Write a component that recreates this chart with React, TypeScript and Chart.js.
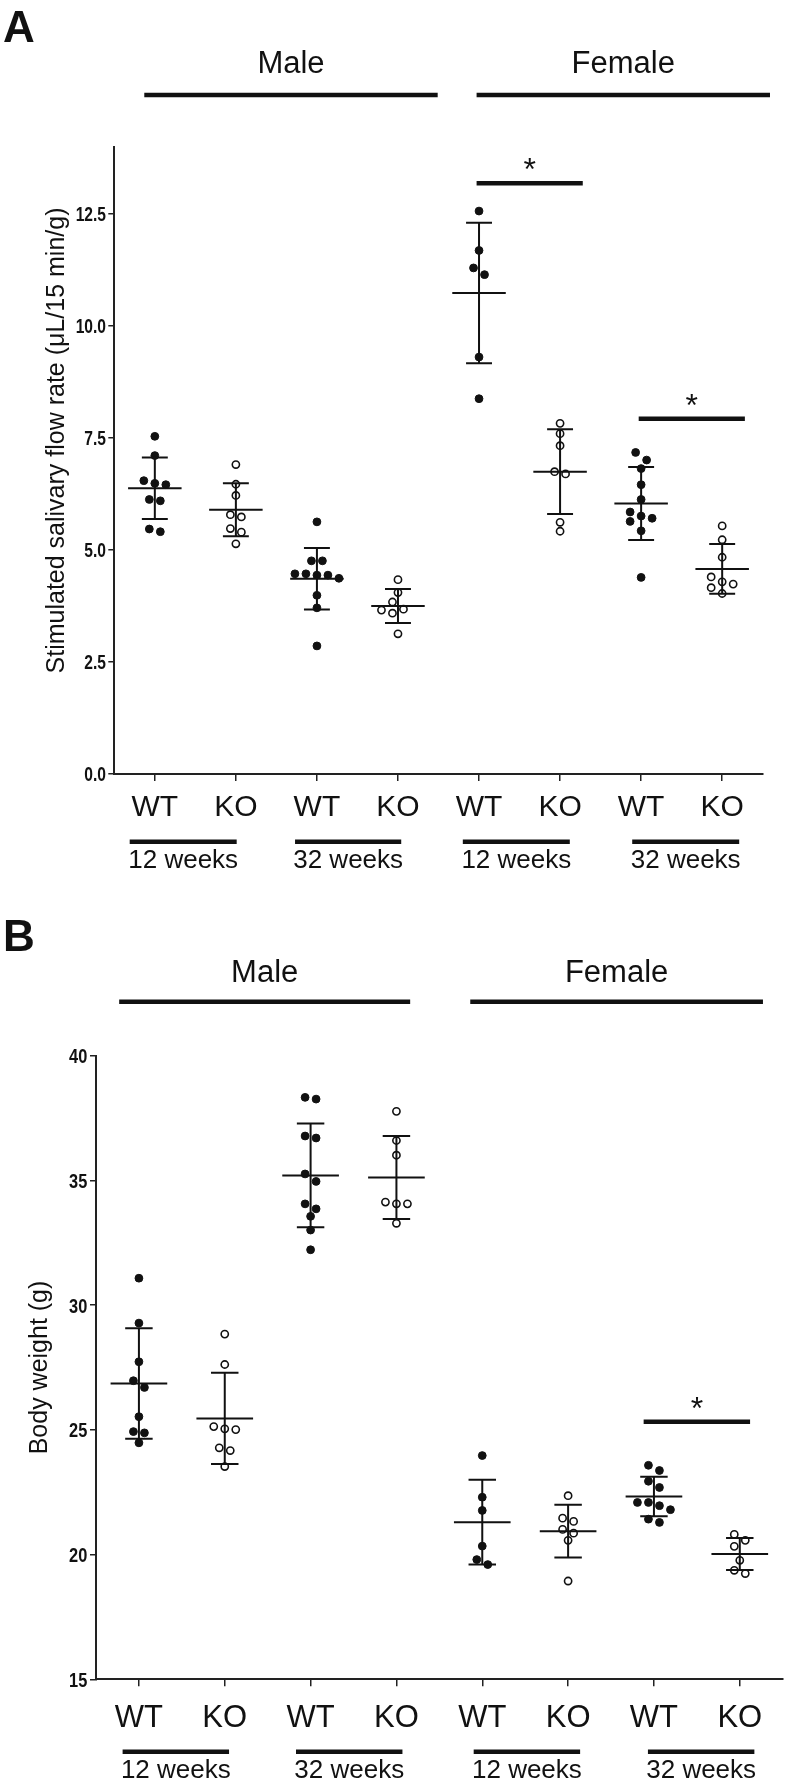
import React, { useEffect, useRef } from 'react';
import { Chart, registerables } from 'chart.js';

Chart.register(...registerables);

// ---------- shared labels ----------
const genotypeLabels = ['WT', 'KO', 'WT', 'KO', 'WT', 'KO', 'WT', 'KO'];
const ageLabels = ['12 weeks', '32 weeks', '12 weeks', '32 weeks'];
const sexLabels = ['Male', 'Female'];

// ---------- Panel A: stimulated salivary flow rate (μL/15 min/g) ----------
const flowMaleWT12 = [7.54, 7.11, 6.55, 6.46, 6.49, 6.13, 6.10, 5.41, 5.47];
const flowMaleKO12 = [6.91, 6.47, 6.22, 5.79, 5.74, 5.48, 5.40, 5.14];
const flowMaleWT32 = [5.63, 4.76, 4.76, 4.47, 4.44, 4.37, 4.44, 4.47, 3.99, 3.71, 2.86];
const flowMaleKO32 = [4.34, 4.05, 3.84, 3.66, 3.59, 3.68, 3.13];
const flowFemaleWT12 = [12.57, 11.69, 11.30, 11.15, 9.31, 8.38];
const flowFemaleKO12 = [7.83, 7.60, 7.33, 6.75, 6.70, 5.62, 5.42];
const flowFemaleWT32 = [7.18, 7.01, 6.82, 6.46, 6.13, 5.85, 5.76, 5.71, 5.64, 5.43, 4.39];
const flowFemaleKO32 = [5.54, 5.23, 4.84, 4.40, 4.24, 4.29, 4.16, 4.03];
const flowMeans = [6.38, 5.90, 4.36, 3.75, 10.74, 6.75, 6.04, 4.58];
const flowSDs = [0.685, 0.59, 0.685, 0.38, 1.57, 0.945, 0.815, 0.555];
const flowTicks = [0, 2.5, 5, 7.5, 10, 12.5];
const flowSigFrom = [3.97, 5.97];
const flowSigTo = [5.28, 7.28];
const flowSigLevel = [13.19, 7.93];
const flowSexSpans = [[-0.13, 3.49], [3.97, 7.59]];
const flowAgeSpans = [[-0.31, 1.01], [1.73, 3.04], [3.8, 5.12], [5.89, 7.21]];

// ---------- Panel B: body weight (g) ----------
const bwMaleWT12 = [31.08, 29.28, 27.73, 26.97, 26.70, 25.53, 24.93, 24.88, 24.48];
const bwMaleKO12 = [28.84, 27.62, 25.13, 25.01, 25.04, 24.28, 24.17, 23.53];
const bwMaleWT32 = [38.33, 38.26, 36.70, 36.78, 35.26, 34.96, 34.06, 33.86, 33.56, 33.01, 32.22];
const bwMaleKO32 = [37.77, 36.60, 36.01, 34.06, 34.06, 34.13, 33.28];
const bwFemaleWT12 = [23.97, 22.30, 21.77, 20.34, 19.80, 19.60];
const bwFemaleKO12 = [22.36, 21.46, 21.33, 21.01, 20.86, 20.57, 18.94];
const bwFemaleWT32 = [23.58, 23.37, 22.94, 22.69, 22.09, 22.09, 21.96, 21.80, 21.29, 21.42];
const bwFemaleKO32 = [20.81, 20.57, 20.33, 19.77, 19.24, 19.37];
const bwMeans = [26.86, 25.46, 35.2, 35.12, 21.3, 20.94, 22.33, 20.02];
const bwSDs = [2.215, 1.83, 2.08, 1.665, 1.7, 1.055, 0.79, 0.64];
const bwTicks = [15, 20, 25, 30, 35, 40];
const bwSigFrom = [5.88];
const bwSigTo = [7.12];
const bwSigLevel = [25.33];
const bwSexSpans = [[-0.23, 3.16], [3.86, 7.27]];
const bwAgeSpans = [[-0.19, 1.05], [1.83, 3.07], [3.9, 5.14], [5.93, 7.17]];

// ---------- styling ----------
const INK = '#111111';
const SANS = "'Liberation Sans', Arial, Helvetica, sans-serif";
const MEAN_HALF = 0.33;
const CAP_HALF = 0.16;
const DOT_DIAM = 8.6;
const DOT_GAP = 11;
const Y_TICK_LEN = 6;

type Geo = {
  h: number; left: number; top: number; right: number; bottom: number;
  titleX: number; titleDy: number; headerLineDy: number; ageLineDy: number;
  xLabelPad: number; genoSize: number; yLabelGap: number; yLabelSize: number;
};

type Panel = {
  letter: string;
  groups: number[][];
  means: number[];
  sds: number[];
  yMin: number; yMax: number; yTicks: number[]; decimals: number;
  yTitle: string;
  sigFrom: number[]; sigTo: number[]; sigLevel: number[];
  sexSpans: number[][]; ageSpans: number[][];
  geo: Geo;
};

const panels: Panel[] = [
  {
    letter: 'A',
    groups: [flowMaleWT12, flowMaleKO12, flowMaleWT32, flowMaleKO32, flowFemaleWT12, flowFemaleKO12, flowFemaleWT32, flowFemaleKO32],
    means: flowMeans, sds: flowSDs,
    yMin: 0, yMax: 14, yTicks: flowTicks, decimals: 1,
    yTitle: 'Stimulated salivary flow rate (μL/15 min/g)',
    sigFrom: flowSigFrom, sigTo: flowSigTo, sigLevel: flowSigLevel,
    sexSpans: flowSexSpans, ageSpans: flowAgeSpans,
    geo: { h: 890, left: 114.3, top: 147, right: 762.7, bottom: 774, titleX: 57, titleDy: -20, headerLineDy: 52, ageLineDy: 67.7, xLabelPad: 9, genoSize: 30, yLabelGap: 8.3, yLabelSize: 20 },
  },
  {
    letter: 'B',
    groups: [bwMaleWT12, bwMaleKO12, bwMaleWT32, bwMaleKO32, bwFemaleWT12, bwFemaleKO12, bwFemaleWT32, bwFemaleKO32],
    means: bwMeans, sds: bwSDs,
    yMin: 15, yMax: 40, yTicks: bwTicks, decimals: 0,
    yTitle: 'Body weight (g)',
    sigFrom: bwSigFrom, sigTo: bwSigTo, sigLevel: bwSigLevel,
    sexSpans: bwSexSpans, ageSpans: bwAgeSpans,
    geo: { h: 898, left: 96, top: 165.7, right: 782.7, bottom: 789.3, titleX: 55.5, titleDy: 0, headerLineDy: 54, ageLineDy: 72.4, xLabelPad: 13.5, genoSize: 31, yLabelGap: 8.7, yLabelSize: 21 },
  },
];

// Scatter-dot-plot arrangement: points of similar value share a row,
// spread symmetrically; rows are nudged sideways to reduce overlap.
function beeswarm(values: number[], pxX: number, pxY: number): number[] {
  const tol = (DOT_DIAM * 0.9) / pxY;
  const step = DOT_GAP / pxX;
  const order = values.map((_, i) => i).sort((a, b) => values[b] - values[a]);
  const rows: number[][] = [];
  for (const k of order) {
    const cur = rows[rows.length - 1];
    if (cur && values[cur[0]] - values[k] <= tol) cur.push(k);
    else rows.push([k]);
  }
  const off = new Array(values.length).fill(0);
  const placed: number[] = [];
  for (const row of rows) {
    const base = row.map((_, j) => (j - (row.length - 1) / 2) * step);
    let best = 0;
    let bestScore = -Infinity;
    for (const s of [0, 0.5, -0.5, 1, -1]) {
      const shift = s * step;
      let minD = Infinity;
      row.forEach((k, j) => {
        for (const q of placed) {
          const dx = (base[j] + shift - off[q]) * pxX;
          const dy = (values[k] - values[q]) * pxY;
          minD = Math.min(minD, Math.hypot(dx, dy));
        }
      });
      if (minD >= DOT_DIAM) { best = shift; break; }
      if (minD > bestScore) { bestScore = minD; best = shift; }
    }
    row.forEach((k, j) => { off[k] = base[j] + best; placed.push(k); });
  }
  return off;
}

function decorPlugin(p: Panel) {
  return {
    id: 'decor' + p.letter,
    afterDraw(chart: any) {
      const { ctx, chartArea: ca, scales } = chart;
      const xs = scales.x;
      const ys = scales.y;
      const g = p.geo;
      ctx.save();
      ctx.fillStyle = INK;
      ctx.strokeStyle = INK;
      ctx.lineCap = 'butt';

      // y tick labels (bold, condensed), placed at the library's tick positions
      ctx.font = `bold ${g.yLabelSize}px ${SANS}`;
      ctx.textAlign = 'right';
      ctx.textBaseline = 'alphabetic';
      const capH = g.yLabelSize * 0.716;
      ys.ticks.forEach((t: any) => {
        const y = ys.getPixelForValue(t.value);
        ctx.save();
        ctx.translate(ca.left - g.yLabelGap, y + capH / 2);
        ctx.scale(0.78, 1);
        ctx.fillText(Number(t.value).toFixed(p.decimals), 0, 0);
        ctx.restore();
      });

      // panel letter
      ctx.font = `bold 44px ${SANS}`;
      ctx.textAlign = 'left';
      ctx.fillText(p.letter, 3, ca.top - 105);

      // sex headers
      ctx.lineWidth = 4.5;
      ctx.font = `31px ${SANS}`;
      ctx.textAlign = 'center';
      p.sexSpans.forEach(([a, b], i) => {
        const x1 = xs.getPixelForValue(a);
        const x2 = xs.getPixelForValue(b);
        const y = ca.top - g.headerLineDy;
        ctx.beginPath();
        ctx.moveTo(x1, y);
        ctx.lineTo(x2, y);
        ctx.stroke();
        ctx.fillText(sexLabels[i], (x1 + x2) / 2, ca.top - 74);
      });

      // age groups under the axis
      ctx.font = `26px ${SANS}`;
      p.ageSpans.forEach(([a, b], i) => {
        const x1 = xs.getPixelForValue(a);
        const x2 = xs.getPixelForValue(b);
        const y = ca.bottom + g.ageLineDy;
        ctx.beginPath();
        ctx.moveTo(x1, y);
        ctx.lineTo(x2, y);
        ctx.stroke();
        ctx.fillText(ageLabels[i], (x1 + x2) / 2, y + 26.6);
      });

      // significance asterisks
      ctx.font = `32px ${SANS}`;
      p.sigFrom.forEach((a, i) => {
        const x = (xs.getPixelForValue(a) + xs.getPixelForValue(p.sigTo[i])) / 2;
        const y = ys.getPixelForValue(p.sigLevel[i]);
        ctx.fillText('*', x, y - 3);
      });

      // y-axis title
      ctx.font = `25px ${SANS}`;
      ctx.translate(ca.left - g.titleX, (ca.top + ca.bottom) / 2 + g.titleDy);
      ctx.rotate(-Math.PI / 2);
      ctx.textBaseline = 'middle';
      ctx.textAlign = 'center';
      ctx.fillText(p.yTitle, 0, 0);
      ctx.restore();
    },
  };
}

function buildConfig(p: Panel): any {
  const g = p.geo;
  const pxX = (g.right - g.left) / 8;
  const pxY = (g.bottom - g.top) / (p.yMax - p.yMin);

  const filled: any[] = [];
  const open: any[] = [];
  p.groups.forEach((vals, i) => {
    const off = beeswarm(vals, pxX, pxY);
    vals.forEach((v, j) => {
      (i % 2 === 0 ? filled : open).push({ x: i + off[j], y: v });
    });
  });

  const meanData: any[] = [];
  const barData: any[] = [];
  p.means.forEach((m, i) => {
    const sd = p.sds[i];
    meanData.push({ x: i - MEAN_HALF, y: m }, { x: i + MEAN_HALF, y: m }, { x: i, y: null });
    barData.push({ x: i, y: m - sd }, { x: i, y: m + sd }, { x: i, y: null });
    barData.push({ x: i - CAP_HALF, y: m + sd }, { x: i + CAP_HALF, y: m + sd }, { x: i, y: null });
    barData.push({ x: i - CAP_HALF, y: m - sd }, { x: i + CAP_HALF, y: m - sd }, { x: i, y: null });
  });
  const sigData: any[] = [];
  p.sigFrom.forEach((a, i) => {
    sigData.push({ x: a, y: p.sigLevel[i] }, { x: p.sigTo[i], y: p.sigLevel[i] }, { x: a, y: null });
  });

  const lineDs = (data: any[], width: number) => ({
    data,
    showLine: true,
    spanGaps: false,
    borderColor: INK,
    borderWidth: width,
    pointRadius: 0,
    fill: false,
    clip: false,
    borderCapStyle: 'butt',
  });

  return {
    type: 'scatter',
    data: {
      datasets: [
        lineDs(meanData, 2),
        lineDs(barData, 2),
        lineDs(sigData, 4.5),
        {
          data: open,
          pointStyle: 'circle',
          pointRadius: 3.6,
          pointBorderWidth: 1.6,
          pointBackgroundColor: '#ffffff',
          pointBorderColor: INK,
          clip: false,
        },
        {
          data: filled,
          pointStyle: 'circle',
          pointRadius: 3.9,
          pointBorderWidth: 1,
          pointBackgroundColor: INK,
          pointBorderColor: INK,
          clip: false,
        },
      ],
    },
    options: {
      responsive: false,
      maintainAspectRatio: false,
      animation: false,
      devicePixelRatio: 1,
      events: [],
      layout: { padding: { left: 0, top: g.top, right: 792 - g.right, bottom: 0 } },
      plugins: { legend: { display: false }, tooltip: { enabled: false }, title: { display: false } },
      scales: {
        x: {
          type: 'linear',
          min: -0.5,
          max: 7.5,
          afterFit: (s: any) => { s.height = g.h - g.bottom; },
          afterBuildTicks: (s: any) => { s.ticks = genotypeLabels.map((_, i) => ({ value: i })); },
          grid: { display: true, drawOnChartArea: false, drawTicks: true, tickLength: 7, color: '#222', lineWidth: 1.5 },
          border: { display: true, color: '#222', width: 2 },
          ticks: {
            autoSkip: false,
            maxRotation: 0,
            padding: g.xLabelPad,
            color: INK,
            font: { family: SANS, size: g.genoSize },
            callback: (v: any) => genotypeLabels[Math.round(Number(v))] ?? '',
          },
        },
        y: {
          type: 'linear',
          min: p.yMin,
          max: p.yMax,
          afterFit: (s: any) => { s.width = g.left; },
          afterBuildTicks: (s: any) => { s.ticks = p.yTicks.map((v) => ({ value: v })); },
          grid: { display: true, drawOnChartArea: false, drawTicks: true, tickLength: Y_TICK_LEN, color: '#222', lineWidth: 1.5 },
          border: { display: true, color: '#222', width: 2 },
          ticks: { display: false },
        },
      },
    },
    plugins: [decorPlugin(p)],
  };
}

function PanelChart({ panel }: { panel: Panel }) {
  const ref = useRef<HTMLCanvasElement | null>(null);
  useEffect(() => {
    if (!ref.current) return;
    const chart = new Chart(ref.current, buildConfig(panel));
    return () => chart.destroy();
  }, [panel]);
  return <canvas ref={ref} width={792} height={panel.geo.h} style={{ display: 'block', width: 792, height: panel.geo.h }} />;
}

export default function App() {
  useEffect(() => {
    document.body.style.margin = '0';
    document.body.style.background = '#ffffff';
  }, []);
  return (
    <div style={{ width: 792, height: 1788, background: '#ffffff', overflow: 'hidden' }}>
      {panels.map((p) => (
        <PanelChart key={p.letter} panel={p} />
      ))}
    </div>
  );
}
